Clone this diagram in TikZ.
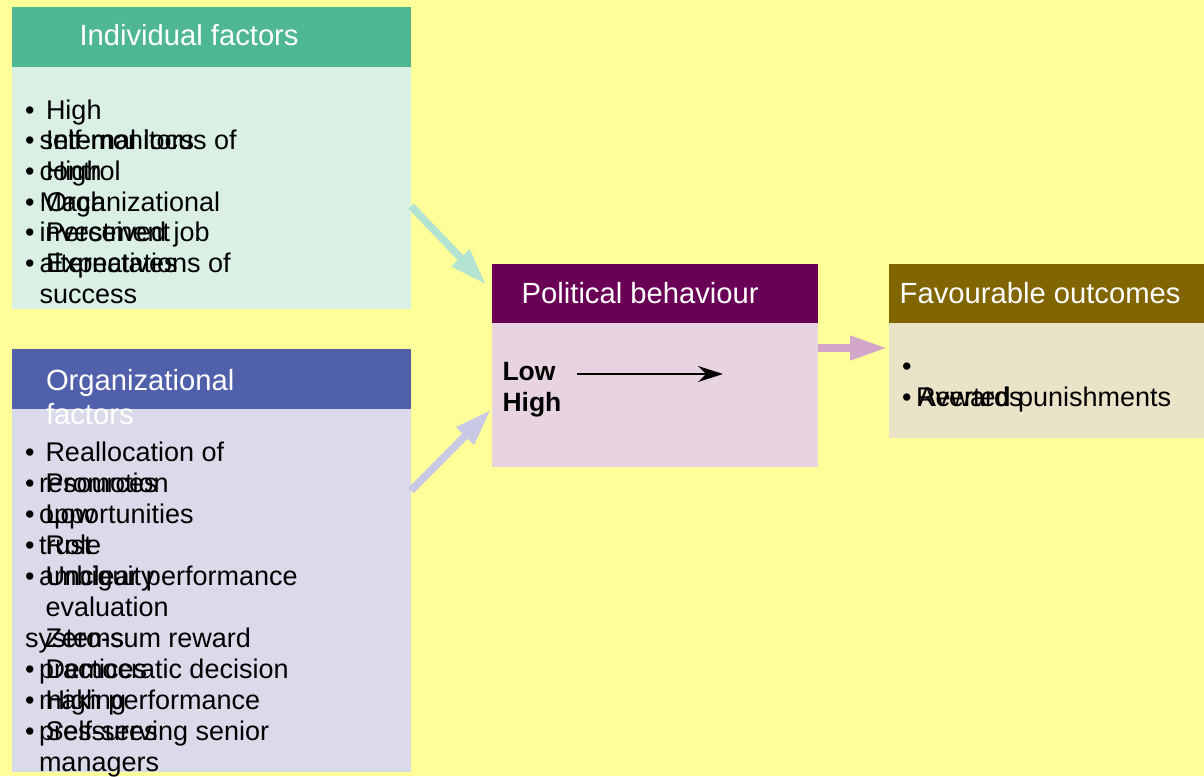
\documentclass[tikz,border=0pt]{standalone}
\usepackage{fontspec}
\setmainfont{Liberation Sans}
\usetikzlibrary{arrows.meta,positioning,calc}
\definecolor{paper}{HTML}{FFFF99}
\definecolor{indgreen}{HTML}{4FB791}
\definecolor{indlight}{HTML}{DAF0E5}
\definecolor{indarrow}{HTML}{B3E3D1}
\definecolor{orgblue}{HTML}{5060AB}
\definecolor{orglight}{HTML}{DADAEB}
\definecolor{orgarrow}{HTML}{C9C9E6}
\definecolor{polplum}{HTML}{6A0055}
\definecolor{pollight}{HTML}{E8D3E0}
\definecolor{polarrow}{HTML}{D3A6C9}
\definecolor{favolive}{HTML}{806500}
\definecolor{favlight}{HTML}{EBE3C7}

\begin{document}
\begin{tikzpicture}[
    x=1pt, y=-1pt,
    every node/.style={inner sep=0pt, outer sep=0pt},
    headbox/.style={rectangle, anchor=north west, minimum height=60pt},
    bodybox/.style={rectangle},
    % multi-line nodes sit on the baseline of their last line
    title/.style={anchor=base west, text=white, align=left,
                  font=\fontsize{29.2}{34}\selectfont},
    items/.style={anchor=base west, align=left,
                  font=\fontsize{27}{30.7}\selectfont},
    orgitems/.style={items, font=\fontsize{27}{31}\selectfont},
    blockarrow/.style={-{Triangle[length=37pt,width=23pt]}, line width=7.5pt},
    scalearrow/.style={-{Stealth[length=25pt,width=16pt]}, line width=1.3pt},
]

\fill[paper] (0,0) rectangle (1204,776);
\useasboundingbox (0,0) rectangle (1204,776);

% --- Individual factors ---
\node[headbox, fill=indgreen, minimum width=399pt] (indhead) at (12,7) {};
\node[bodybox, fill=indlight, minimum width=399pt, minimum height=242pt, below=0pt of indhead] (indbody) {};
\node[title] (indtitle) at (79.5,46) {Individual factors};
\node[items] (indbul) at (25,272.5) {•\\•\\•\\•\\•\\•};
\node[items] (indfirst) at (46,272.5) {High\\Internal locus of\\High\\Organizational\\Perceived job\\Expectations of};
\node[items] (indrest) at (39.5,303.2) {self-monitors\\control\\Mach\\investment\\alternatives\\success};

% --- Organizational factors ---
\node[headbox, fill=orgblue, minimum width=399pt] (orghead) at (12,349) {};
\node[bodybox, fill=orglight, minimum width=399pt, minimum height=363pt, below=0pt of orghead] (orgbody) {};
\node[title] (orgtitle) at (46,424) {Organizational\\factors};
\node[orgitems] (orgbul) at (25,585.7) {•\\•\\•\\•\\•};
\node[orgitems] (orgbullow) at (25,740.7) {•\\•\\•};
\node[orgitems] (orgfirst) at (45.5,740.7) {Reallocation of\\Promotion\\Low\\Role\\Unclear performance\\evaluation\\Zero-sum reward\\Democratic decision\\High performance\\Self-serving senior};
\node[orgitems] (orgrest) at (39,585.7) {resources\\opportunities\\trust\\ambiguity};
\node[orgitems] (orgsys) at (25,647.7) {systems};
\node[orgitems] (orgrestlow) at (39,771.7) {practices\\making\\pressures\\managers};

% --- Political behaviour ---
\node[headbox, fill=polplum, minimum width=326pt, minimum height=59pt] (polhead) at (492,264) {};
\node[bodybox, fill=pollight, minimum width=326pt, minimum height=143.5pt, below=0pt of polhead] (polbody) {};
\node[title] (poltitle) at (521.7,303) {Political behaviour};
\node[items, font=\fontsize{26.5}{30.8}\selectfont\bfseries] (low) at (502.5,380) {Low};
\node[items, font=\fontsize{26.5}{30.8}\selectfont\bfseries] (high) at (502.5,411.7) {High};
\coordinate (lowend) at (723,374);
\draw[scalearrow] ($(low.base east)+(22,-6)$) -- (lowend);

% --- Favourable outcomes ---
\node[headbox, fill=favolive, minimum width=315pt, minimum height=59pt] (favhead) at (889,264) {};
\node[bodybox, fill=favlight, minimum width=315pt, minimum height=115pt, below=0pt of favhead] (favbody) {};
\node[title] (favtitle) at (899.7,303) {Favourable outcomes};
\node[items] (favbul) at (902,406.5) {•\\•};
\node[items] (rewards) at (916,406.5) {Rewards};
\node[items] (averted) at (918,406.5) {Averted punishments};

% --- Block arrows ---
\draw[blockarrow, draw=indarrow] ($(indbody.north east)+(0,139)$) -- ($(polhead.west)+(-6,-9)$);
\draw[blockarrow, draw=orgarrow] ($(orgbody.east)+(0,-100)$) -- ($(polbody.west)+(-1,15)$);
\draw[blockarrow, draw=polarrow] ($(polbody.north east)+(0,25)$) -- ($(favbody.north west)+(-2,25)$);

\end{tikzpicture}
\end{document}
